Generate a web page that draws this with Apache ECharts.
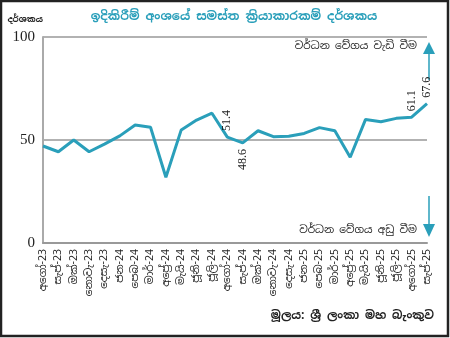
<!DOCTYPE html>
<html>
<head>
<meta charset="utf-8">
<script src="https://cdn.jsdelivr.net/npm/echarts@6/dist/echarts.min.js"></script>
<style>
  html, body { margin: 0; padding: 0; background: #fff; }
  #chart { width: 450px; height: 338px; }
</style>
</head>
<body>
<div id="chart"></div>
<script>
// Months from August 2023 to September 2025
const months = [
  'අගෝ-23', 'සැප්-23', 'ඔක්-23', 'නොවැ-23', 'දෙසැ-23',
  'ජන-24', 'පෙබ-24', 'මාර්-24', 'අප්‍රේ-24', 'මැයි-24', 'ජූනි-24', 'ජූලි-24',
  'අගෝ-24', 'සැප්-24', 'ඔක්-24', 'නොවැ-24', 'දෙසැ-24',
  'ජන-25', 'පෙබ-25', 'මාර්-25', 'අප්‍රේ-25', 'මැයි-25', 'ජූනි-25', 'ජූලි-25',
  'අගෝ-25', 'සැප්-25'
];

// Construction sector overall activity index
const indexValues = [
  47.1, 44.3, 50.0, 44.3, 48.0, 52.0, 57.3, 56.2, 31.9, 54.9, 59.7, 63.0,
  51.4, 48.6, 54.5, 51.6, 51.8, 53.2, 56.0, 54.5, 41.6, 60.0, 58.9, 60.5,
  61.1, 67.6
];

// Points whose values are printed (index -> position of the label)
const labelledAbove = [12, 24, 25];
const labelledBelow = [13];

const yTicks = [0, 50, 100];

const titleText = 'ඉදිකිරීම් අංශයේ සමස්ත ක්‍රියාකාරකම් දර්ශකය';
const yName = 'දර්ශකය';
const upText = 'වර්ධන වේගය වැඩි වීම';
const downText = 'වර්ධන වේගය අඩු වීම';
const sourceText = 'මූලය: ශ්‍රී ලංකා මහ බැංකුව';

const teal = '#2a9fba';
const sinhalaFont = '"Noto Sans Sinhala", "Noto Sans", sans-serif';

const seriesData = indexValues.map((v, i) => {
  const item = { value: v };
  if (labelledAbove.includes(i)) {
    item.label = { show: true, position: 'top', rotate: 90, align: 'left', verticalAlign: 'middle', distance: 6 };
  } else if (labelledBelow.includes(i)) {
    item.label = { show: true, position: 'bottom', rotate: 90, align: 'right', verticalAlign: 'middle', distance: 6 };
  }
  return item;
});

const chart = echarts.init(document.getElementById('chart'), null, { renderer: 'canvas' });
chart.setOption({
  animation: false,
  backgroundColor: '#fff',
  title: {
    text: titleText,
    left: 229,
    textAlign: 'center',
    top: 6,
    textStyle: { color: teal, fontSize: 12, fontWeight: 'bold', fontFamily: sinhalaFont }
  },
  grid: { left: 43, right: 23, top: 37, bottom: 95, containLabel: false },
  xAxis: {
    type: 'category',
    data: months,
    boundaryGap: false,
    axisLine: { lineStyle: { color: '#999', width: 2 } },
    axisTick: { show: false },
    axisLabel: {
      rotate: 90,
      interval: 0,
      color: '#222',
      fontSize: 10.5,
      fontFamily: sinhalaFont,
      margin: 6
    }
  },
  yAxis: {
    type: 'value',
    min: 0,
    max: 100,
    interval: 50,
    name: yName,
    nameLocation: 'end',
    nameGap: 13,
    nameTextStyle: { color: '#222', fontSize: 8.5, fontWeight: 'bold', fontFamily: sinhalaFont, align: 'right' },
    axisLine: { show: true, lineStyle: { color: '#aaa', width: 2 } },
    axisTick: { show: false },
    axisLabel: {
      color: '#222',
      fontSize: 15,
      fontFamily: '"Liberation Serif", serif',
      margin: 8,
      formatter: v => yTicks.includes(v) ? String(v) : ''
    },
    splitLine: { show: true, lineStyle: { color: '#999', width: 1.5 } }
  },
  series: [{
    type: 'line',
    data: seriesData,
    symbol: 'circle',
    symbolSize: 0,
    showSymbol: true,
    itemStyle: { color: teal },
    lineStyle: { color: teal, width: 3 },
    label: { show: false, color: '#222', fontSize: 12, fontFamily: '"Liberation Serif", serif' },
    z: 5
  }],
  graphic: [
    // growth-rate annotations with arrows on the right
    { type: 'text', right: 33, top: 41, style: { text: upText, fill: '#222', font: '10.5px ' + sinhalaFont } },
    { type: 'polygon', shape: { points: [[423, 54], [435, 54], [429, 42]] }, style: { fill: teal } },
    { type: 'line', shape: { x1: 429, y1: 54, x2: 429, y2: 80 }, style: { stroke: teal, lineWidth: 1.5 } },
    { type: 'text', right: 33, top: 225, style: { text: downText, fill: '#222', font: '10.5px ' + sinhalaFont } },
    { type: 'line', shape: { x1: 429, y1: 196, x2: 429, y2: 225 }, style: { stroke: teal, lineWidth: 1.5 } },
    { type: 'polygon', shape: { points: [[423, 224], [435, 224], [429, 237]] }, style: { fill: teal } },
    // source note
    { type: 'text', right: 16, top: 310, style: { text: sourceText, fill: '#222', font: 'bold 11.5px ' + sinhalaFont } },
    // outer frame
    { type: 'rect', shape: { x: 1, y: 1, width: 447, height: 335 }, style: { fill: 'none', stroke: '#222', lineWidth: 2.5 }, z: 100 }
  ]
});
</script>
</body>
</html>
